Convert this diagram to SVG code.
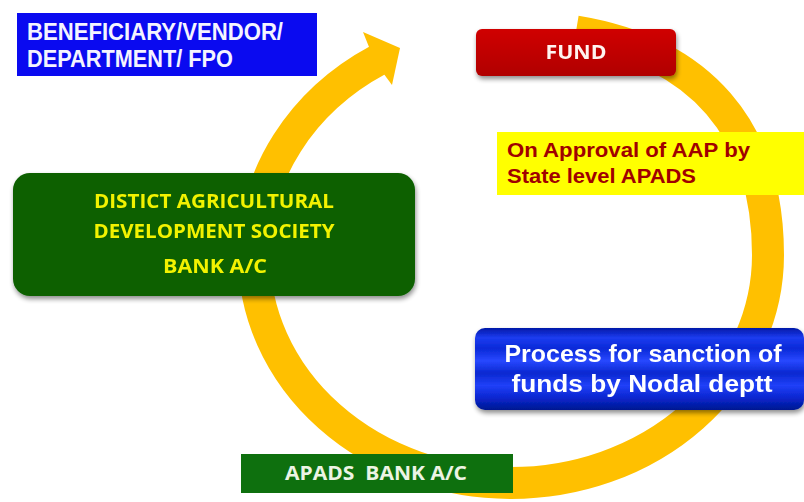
<svg xmlns="http://www.w3.org/2000/svg" width="804" height="502" viewBox="0 0 804 502">
  <defs>
    <style>
      .lbl { font-family: "Liberation Sans", Arial, sans-serif; font-weight: bold; }
      .cal { font-family: "Open Sans", "Liberation Sans", sans-serif; font-weight: bold; }
      .ring { fill: none; stroke: #FFC000; stroke-width: 32; stroke-linecap: butt; }
    </style>
    <linearGradient id="gRed" x1="0" y1="0" x2="0" y2="1">
      <stop offset="0" stop-color="#D00000"/>
      <stop offset="1" stop-color="#B00000"/>
    </linearGradient>
    <linearGradient id="gBlue" x1="0" y1="0" x2="0" y2="1">
      <stop offset="0" stop-color="#0018A8"/>
      <stop offset="0.12" stop-color="#1C3CF0"/>
      <stop offset="0.25" stop-color="#0A2AD8"/>
      <stop offset="0.4" stop-color="#2848FF"/>
      <stop offset="0.55" stop-color="#0A28D0"/>
      <stop offset="0.7" stop-color="#2040F8"/>
      <stop offset="0.85" stop-color="#0A26D0"/>
      <stop offset="1" stop-color="#001890"/>
    </linearGradient>
    <filter id="shadow" x="-10%" y="-20%" width="120%" height="150%">
      <feGaussianBlur in="SourceAlpha" stdDeviation="2.5"/>
      <feOffset dx="1" dy="3" result="b"/>
      <feComponentTransfer><feFuncA type="linear" slope="0.45"/></feComponentTransfer>
      <feMerge><feMergeNode/><feMergeNode in="SourceGraphic"/></feMerge>
    </filter>
  </defs>

  <rect width="804" height="502" fill="#FFFFFF"/>

  <g id="connectors">
    <path class="ring" d="M576,31.5 C700,52 768,129.2 768,255 A257,228 0 0 1 511,483 A257,228 0 0 1 254,255 A257,228 0 0 1 378,60"/>
    <polygon points="363,32 400,48 392,85 375,62" fill="#FFC000"/>
  </g>

  <g id="beneficiary">
    <rect x="17" y="13" width="300" height="63" fill="#0A0AF0"/>
    <text class="lbl" x="27" y="40" font-size="23" fill="#F4F4FF" textLength="256" lengthAdjust="spacingAndGlyphs">BENEFICIARY/VENDOR/</text>
    <text class="lbl" x="27" y="67" font-size="23" fill="#F4F4FF" textLength="206" lengthAdjust="spacingAndGlyphs">DEPARTMENT/ FPO</text>
  </g>

  <g id="fund" filter="url(#shadow)">
    <rect x="476" y="29" width="200" height="47" rx="6" fill="url(#gRed)"/>
    <text class="cal" x="576" y="59" font-size="19" fill="#FFF4F0" text-anchor="middle" textLength="61" lengthAdjust="spacingAndGlyphs">FUND</text>
  </g>

  <g id="approval">
    <rect x="497" y="132" width="307" height="63" fill="#FFFF00"/>
    <text class="lbl" x="507" y="157" font-size="21" fill="#A00000" textLength="243" lengthAdjust="spacingAndGlyphs">On Approval of AAP by</text>
    <text class="lbl" x="507" y="183" font-size="21" fill="#A00000" textLength="189" lengthAdjust="spacingAndGlyphs">State level APADS</text>
  </g>

  <g id="district-society" filter="url(#shadow)">
    <rect x="13" y="173" width="402" height="123" rx="17" fill="#0B6000"/>
    <text class="cal" x="214" y="208" font-size="20" fill="#F2F200" text-anchor="middle" textLength="240" lengthAdjust="spacingAndGlyphs">DISTICT AGRICULTURAL</text>
    <text class="cal" x="214" y="238" font-size="20" fill="#F2F200" text-anchor="middle" textLength="241" lengthAdjust="spacingAndGlyphs">DEVELOPMENT SOCIETY</text>
    <text class="cal" x="215" y="273" font-size="20" fill="#F2F200" text-anchor="middle" textLength="104" lengthAdjust="spacingAndGlyphs">BANK A/C</text>
  </g>

  <g id="sanction" filter="url(#shadow)">
    <rect x="475" y="328" width="329" height="82" rx="10" fill="url(#gBlue)"/>
    <text class="lbl" x="643" y="362" font-size="24" fill="#FFFFFF" text-anchor="middle" textLength="277" lengthAdjust="spacingAndGlyphs">Process for sanction of</text>
    <text class="lbl" x="642" y="392" font-size="24" fill="#FFFFFF" text-anchor="middle" textLength="261" lengthAdjust="spacingAndGlyphs">funds by Nodal deptt</text>
  </g>

  <g id="apads-bank">
    <rect x="241" y="454" width="272" height="39" fill="#0E700E"/>
    <text class="cal" x="285" y="480" font-size="19" fill="#ECF4E4" xml:space="preserve" textLength="182" lengthAdjust="spacingAndGlyphs">APADS  BANK A/C</text>
  </g>
</svg>
